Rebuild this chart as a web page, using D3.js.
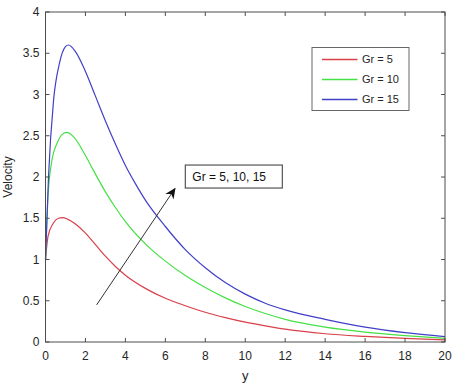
<!DOCTYPE html>
<html>
<head>
<meta charset="utf-8">
<script src="https://cdn.jsdelivr.net/npm/d3@7"></script>
<style>
  body { margin: 0; background: #fff; }
  svg { display: block; font-family: Arial, "Liberation Sans", sans-serif; }
</style>
</head>
<body>
<div id="root"></div>
<script>
const width = 460;
const height = 390;
const margin = {top: 12, right: 15, bottom: 48, left: 45.5};

// values
const yPos = {
  gr5:  [0, 0.125, 0.39, 0.65, 0.85, 1.1, 1.5, 2, 2.5, 3, 3.5, 4, 5, 6, 7, 8, 9, 10, 11, 12, 14, 16, 18, 20],
  gr10: [0, 0.125, 0.3, 0.6, 0.85, 1.05, 1.4, 2, 2.4, 3, 3.5, 4, 5, 6, 7, 8, 9, 10, 11, 12, 14, 16, 18, 20],
  gr15: [0, 0.15, 0.4, 0.7, 1.0, 1.15, 1.5, 2, 2.5, 3, 3.5, 4, 4.5, 5, 6, 7, 8, 9, 10, 11, 12, 14, 16, 18, 20]
};
const velGr5  = [1.0, 1.28, 1.44, 1.50, 1.507, 1.49, 1.43, 1.32, 1.18, 1.04, 0.915, 0.81, 0.65, 0.53, 0.44, 0.36, 0.295, 0.24, 0.195, 0.155, 0.10, 0.068, 0.044, 0.025];
const velGr10 = [1.0, 1.76, 2.17, 2.42, 2.52, 2.54, 2.49, 2.26, 2.08, 1.82, 1.63, 1.46, 1.19, 0.98, 0.805, 0.66, 0.535, 0.43, 0.345, 0.275, 0.18, 0.12, 0.078, 0.045];
const velGr15 = [1.0, 2.0, 2.92, 3.38, 3.58, 3.60, 3.52, 3.28, 2.98, 2.68, 2.40, 2.14, 1.92, 1.72, 1.40, 1.12, 0.90, 0.72, 0.58, 0.47, 0.39, 0.275, 0.18, 0.113, 0.065];

const seriesNames = ['Gr = 5', 'Gr = 10', 'Gr = 15'];
const seriesColors = ['#d9404a', '#45e045', '#4040c8'];
const xTicks = [0, 2, 4, 6, 8, 10, 12, 14, 16, 18, 20];
const yTicks = [0, 0.5, 1, 1.5, 2, 2.5, 3, 3.5, 4];

// arrow and annotation (data coordinates)
const arrowFrom = [2.56, 0.45];
const arrowTo = [6.48, 1.86];
const noteAt = [7.0, 2.145];
const noteText = 'Gr = 5, 10, 15';

const series = [
  {name: seriesNames[0], color: seriesColors[0], values: yPos.gr5.map((y, i) => [y, velGr5[i]])},
  {name: seriesNames[1], color: seriesColors[1], values: yPos.gr10.map((y, i) => [y, velGr10[i]])},
  {name: seriesNames[2], color: seriesColors[2], values: yPos.gr15.map((y, i) => [y, velGr15[i]])}
];

const x = d3.scaleLinear().domain([0, 20]).range([margin.left, width - margin.right]);
const y = d3.scaleLinear().domain([0, 4]).range([height - margin.bottom, margin.top]);

const svg = d3.select('#root')
  .append('svg')
  .attr('width', width)
  .attr('height', height);

const axisColor = '#4d4d4d';
const textColor = '#262626';
const tickLen = 4;

// curves
const line = d3.line()
  .x(d => x(d[0]))
  .y(d => y(d[1]))
  .curve(d3.curveMonotoneX);

svg.append('g')
  .selectAll('path')
  .data(series)
  .join('path')
  .attr('fill', 'none')
  .attr('stroke', d => d.color)
  .attr('stroke-width', 1.2)
  .attr('d', d => line(d.values));

// box with inward ticks on all sides
const x0 = x(0), x1 = x(20), y0 = y(0), y1 = y(4);
svg.append('rect')
  .attr('x', x0).attr('y', y1)
  .attr('width', x1 - x0).attr('height', y0 - y1)
  .attr('fill', 'none')
  .attr('stroke', axisColor)
  .attr('stroke-width', 1);

const ticks = svg.append('g').attr('stroke', axisColor).attr('stroke-width', 1);
xTicks.forEach(t => {
  ticks.append('line').attr('x1', x(t)).attr('x2', x(t)).attr('y1', y0).attr('y2', y0 - tickLen);
  ticks.append('line').attr('x1', x(t)).attr('x2', x(t)).attr('y1', y1).attr('y2', y1 + tickLen);
});
yTicks.forEach(t => {
  ticks.append('line').attr('y1', y(t)).attr('y2', y(t)).attr('x1', x0).attr('x2', x0 + tickLen);
  ticks.append('line').attr('y1', y(t)).attr('y2', y(t)).attr('x1', x1).attr('x2', x1 - tickLen);
});

// tick labels
svg.append('g')
  .selectAll('text')
  .data(xTicks)
  .join('text')
  .attr('x', d => x(d))
  .attr('y', y0 + 18)
  .attr('text-anchor', 'middle')
  .attr('font-size', 12)
  .attr('fill', textColor)
  .text(d => d);

svg.append('g')
  .selectAll('text')
  .data(yTicks)
  .join('text')
  .attr('x', x0 - 6)
  .attr('y', d => y(d))
  .attr('dy', '0.35em')
  .attr('text-anchor', 'end')
  .attr('font-size', 12)
  .attr('fill', textColor)
  .text(d => d);

// axis titles
svg.append('text')
  .attr('x', x(10))
  .attr('y', y0 + 38)
  .attr('text-anchor', 'middle')
  .attr('font-size', 13)
  .attr('fill', textColor)
  .text('y');

svg.append('text')
  .attr('transform', `translate(12,${(y0 + y1) / 2}) rotate(-90)`)
  .attr('text-anchor', 'middle')
  .attr('font-size', 12)
  .attr('fill', textColor)
  .text('Velocity');

// arrow
svg.append('defs').append('marker')
  .attr('id', 'head')
  .attr('viewBox', '0 0 10 10')
  .attr('refX', 9).attr('refY', 5)
  .attr('markerWidth', 11).attr('markerHeight', 11)
  .attr('markerUnits', 'userSpaceOnUse')
  .attr('orient', 'auto')
  .append('path')
  .attr('d', 'M0,0.5 L10,5 L0,9.5 L3,5 Z')
  .attr('fill', '#111');

svg.append('line')
  .attr('x1', x(arrowFrom[0])).attr('y1', y(arrowFrom[1]))
  .attr('x2', x(arrowTo[0])).attr('y2', y(arrowTo[1]))
  .attr('stroke', '#333')
  .attr('stroke-width', 1)
  .attr('marker-end', 'url(#head)');

// annotation text box
const note = svg.append('g').attr('transform', `translate(${x(noteAt[0])},${y(noteAt[1])})`);
note.append('rect')
  .attr('width', 97).attr('height', 23)
  .attr('fill', '#fff')
  .attr('stroke', '#555')
  .attr('stroke-width', 1.2);
note.append('text')
  .attr('x', 7).attr('y', 16)
  .attr('font-size', 12)
  .attr('fill', '#111')
  .text(noteText);

// legend
const legend = svg.append('g').attr('transform', `translate(${x1 - 133},${y1 + 35.5})`);
legend.append('rect')
  .attr('width', 97).attr('height', 63)
  .attr('fill', '#fff')
  .attr('stroke', '#666')
  .attr('stroke-width', 1);
const item = legend.selectAll('g')
  .data(series)
  .join('g')
  .attr('transform', (d, i) => `translate(0,${12 + i * 20})`);
item.append('line')
  .attr('x1', 10).attr('x2', 45.5)
  .attr('stroke', d => d.color)
  .attr('stroke-width', 1.4);
item.append('text')
  .attr('x', 50)
  .attr('dy', '0.35em')
  .attr('font-size', 11)
  .attr('fill', textColor)
  .text(d => d.name);
</script>
</body>
</html>
